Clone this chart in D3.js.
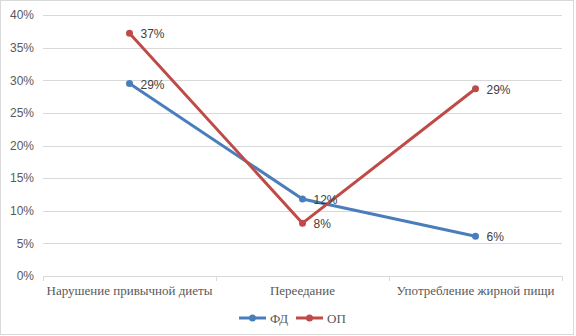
<!DOCTYPE html>
<html>
<head>
<meta charset="utf-8">
<script src="https://cdn.jsdelivr.net/npm/d3@7"></script>
<style>
  body { margin: 0; background: #fff; }
</style>
</head>
<body>
<div id="chart-area"></div>
<script>
var categories = ["Нарушение привычной диеты", "Переедание", "Употребление жирной пищи"];
var seriesNames = ["ФД", "ОП"];
var fdValues = [29.5, 11.8, 6.1];
var opValues = [37.2, 8.1, 28.7];
var fdLabels = ["29%", "12%", "6%"];
var opLabels = ["37%", "8%", "29%"];
var yTicks = [0, 5, 10, 15, 20, 25, 30, 35, 40];
var colors = ["#4a7ebb", "#be4b48"];

var W = 576, H = 336;
var margin = { top: 15, bottom: 60, left: 43, right: 14 };
var width = W - margin.left - margin.right;
var height = H - margin.top - margin.bottom;

var svg = d3.select("#chart-area")
    .append("svg")
        .attr("width", W)
        .attr("height", H);

svg.append("rect")
    .attr("x", 0.5).attr("y", 0.5)
    .attr("width", W - 3).attr("height", H - 2)
    .attr("fill", "#fff")
    .attr("stroke", "#d9d9d9");

var g = svg.append("g")
    .attr("transform", "translate(" + margin.left + ", " + margin.top + ")");

var x = d3.scaleBand()
    .domain(categories)
    .range([0, width]);

var y = d3.scaleLinear()
    .domain([0, 40])
    .range([height, 0]);

// gridlines
g.selectAll(".grid")
    .data(yTicks.filter(function(d) { return d > 0; }))
    .enter().append("line")
        .attr("x1", 0).attr("x2", width)
        .attr("y1", function(d) { return Math.round(y(d)) + 0.5; })
        .attr("y2", function(d) { return Math.round(y(d)) + 0.5; })
        .attr("stroke", "#d9d9d9");

// y axis labels
var yAxisCall = d3.axisLeft(y)
    .tickValues(yTicks)
    .tickSize(0)
    .tickPadding(9)
    .tickFormat(function(d) { return d + "%"; });

var yAxis = g.append("g").call(yAxisCall);
yAxis.select(".domain").remove();
yAxis.selectAll("text")
    .attr("fill", "#595959")
    .attr("font-family", "Liberation Sans, Arial, sans-serif")
    .attr("font-size", "12px");

// x axis
var xAxisCall = d3.axisBottom(x).tickSize(0).tickPadding(10);
var xAxis = g.append("g")
    .attr("transform", "translate(0, " + height + ")")
    .call(xAxisCall);
xAxis.select(".domain").remove();
xAxis.append("line")
    .attr("x1", 0).attr("x2", width)
    .attr("y1", 0.5).attr("y2", 0.5)
    .attr("stroke", "#d9d9d9");
xAxis.selectAll(".sep")
    .data([0, 1, 2, 3])
    .enter().append("line")
        .attr("x1", function(d) { return Math.round(d * x.step()) + 0.5; })
        .attr("x2", function(d) { return Math.round(d * x.step()) + 0.5; })
        .attr("y1", 0).attr("y2", 5)
        .attr("stroke", "#d9d9d9");
xAxis.selectAll("text")
    .attr("fill", "#595959")
    .attr("font-family", "Liberation Serif, Times New Roman, serif")
    .attr("font-size", "13px");

// series
var series = [
    { name: seriesNames[0], values: fdValues, labels: fdLabels, color: colors[0] },
    { name: seriesNames[1], values: opValues, labels: opLabels, color: colors[1] }
];

var line = d3.line()
    .x(function(d, i) { return x(categories[i]) + x.bandwidth() / 2; })
    .y(function(d) { return y(d); });

series.forEach(function(s) {
    g.append("path")
        .datum(s.values)
        .attr("d", line)
        .attr("fill", "none")
        .attr("stroke", s.color)
        .attr("stroke-width", 3)
        .attr("stroke-linejoin", "round");

    g.selectAll(null)
        .data(s.values)
        .enter().append("circle")
            .attr("cx", function(d, i) { return x(categories[i]) + x.bandwidth() / 2; })
            .attr("cy", function(d) { return y(d); })
            .attr("r", 3.5)
            .attr("fill", s.color);
});

series.forEach(function(s) {
    g.selectAll(null)
        .data(s.values)
        .enter().append("text")
            .attr("x", function(d, i) { return x(categories[i]) + x.bandwidth() / 2 + 11; })
            .attr("y", function(d) { return y(d) + 5; })
            .attr("fill", "#404040")
            .attr("font-family", "Liberation Sans, Arial, sans-serif")
            .attr("font-size", "12px")
            .text(function(d, i) { return s.labels[i]; });
});

// legend
var legend = svg.append("g")
    .attr("transform", "translate(239, 318)");

var legendItems = legend.selectAll("g")
    .data(series)
    .enter().append("g")
        .attr("transform", function(d, i) { return "translate(" + (i * 57) + ", 0)"; });

legendItems.append("line")
    .attr("x1", 0).attr("x2", 27)
    .attr("y1", 0).attr("y2", 0)
    .attr("stroke", function(d) { return d.color; })
    .attr("stroke-width", 3);

legendItems.append("circle")
    .attr("cx", 13.5).attr("cy", 0).attr("r", 3.5)
    .attr("fill", function(d) { return d.color; });

legendItems.append("text")
    .attr("x", 31).attr("y", 4.5)
    .attr("fill", "#595959")
    .attr("font-family", "Liberation Serif, Times New Roman, serif")
    .attr("font-size", "13px")
    .text(function(d) { return d.name; });
</script>
</body>
</html>
